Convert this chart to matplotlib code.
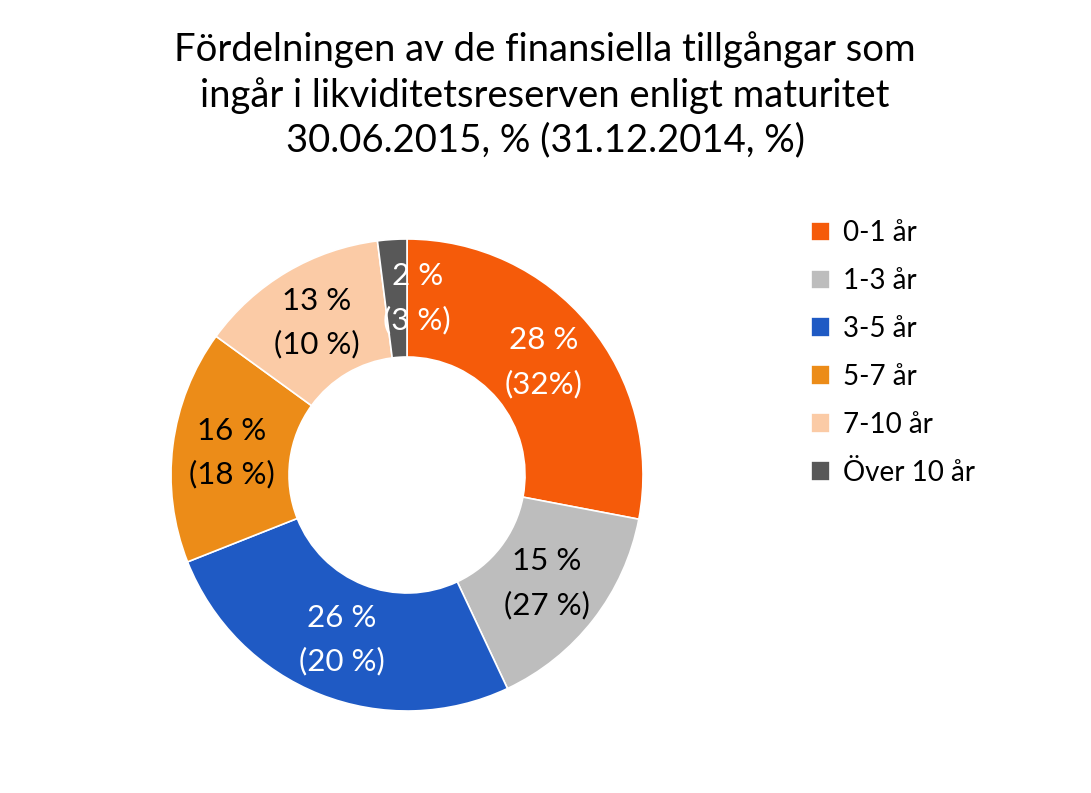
import matplotlib
matplotlib.use("Agg")
import matplotlib.pyplot as plt
import numpy as np

plt.rcParams['font.family'] = ['Lato', 'DejaVu Sans']

categories = ["0-1 år", "1-3 år", "3-5 år", "5-7 år", "7-10 år", "Över 10 år"]
values_2015 = [28, 15, 26, 16, 13, 2]
labels_2014 = ["(32%)", "(27 %)", "(20 %)", "(18 %)", "(10 %)", "(3 %)"]
colors = ["#F55B0A", "#BDBDBD", "#1F5AC4", "#EC8C18", "#FBCBA6", "#585858"]
text_colors = ["white", "black", "white", "black", "black", "white"]
title = ("Fördelningen av de finansiella tillgångar som\n"
         "ingår i likviditetsreserven enligt maturitet\n"
         "30.06.2015, % (31.12.2014, %)")

W, H = 1091, 793
fig = plt.figure(figsize=(W / 100, H / 100), dpi=100)
fig.patch.set_facecolor("white")

cx, cy, R = 407, 475, 236
ax = fig.add_axes([(cx - R) / W, (H - cy - R) / H, 2 * R / W, 2 * R / H])
inner = 0.5
wedges, _ = ax.pie(values_2015, colors=colors, startangle=90, counterclock=False,
                   radius=1.0, wedgeprops=dict(width=1 - inner, edgecolor="white", linewidth=1.2))
ax.set_xlim(-1, 1)
ax.set_ylim(-1, 1)
ax.set_aspect("equal")
ax.axis("off")

rmid = (1 + inner) / 2
for w, v, lab14, tc in zip(wedges, values_2015, labels_2014, text_colors):
    ang = np.deg2rad((w.theta1 + w.theta2) / 2)
    x, y = rmid * np.cos(ang), rmid * np.sin(ang)
    if v < 5:
        x += 0.09
    ax.text(x, y, f"{v} %\n{lab14}", ha="center", va="center", color=tc,
            fontsize=22.5, linespacing=1.65)

fig.text(545 / W, 1 - 95 / H, title, ha="center", va="center", fontsize=27.5,
         linespacing=1.3)

fig.legend(wedges, categories, loc="upper left", bbox_to_anchor=(786 / W, 1 - 195 / H),
           frameon=False, fontsize=20, handlelength=0.7, handleheight=0.7,
           handletextpad=0.45, labelspacing=0.79)

fig.savefig("out.png", dpi=100)
